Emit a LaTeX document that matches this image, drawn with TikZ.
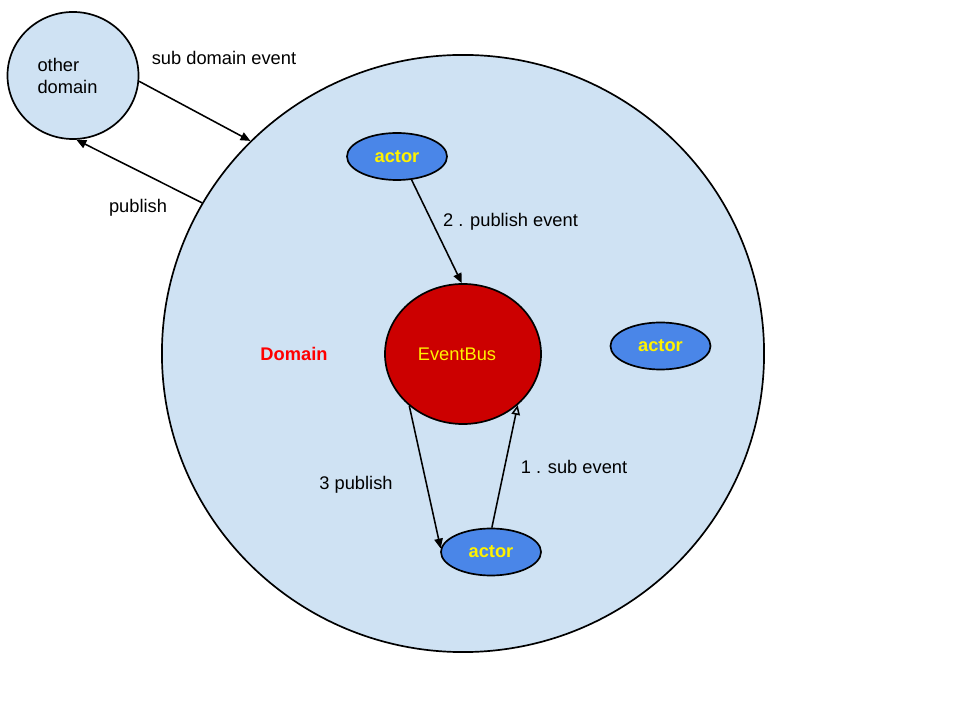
\documentclass[tikz,border=0pt]{standalone}
\usepackage{fontspec}
\setmainfont{Liberation Sans}
\usepackage{tikz}
\usetikzlibrary{arrows.meta,shapes.geometric}

\definecolor{paleblue}{HTML}{CFE2F3}
\definecolor{actorblue}{HTML}{4A86E8}
\definecolor{busred}{HTML}{CC0000}

\begin{document}
\begin{tikzpicture}[
    x=0.025cm, y=-0.025cm,
    every node/.style={font=\fontsize{13}{16}\selectfont},
    blob/.style={draw, ellipse, line width=1.2pt, fill=paleblue, inner sep=0pt},
    actor/.style={draw, ellipse, line width=1.2pt, fill=actorblue, text=yellow,
                  font=\fontsize{13}{16}\selectfont\bfseries,
                  minimum width=2.5cm, minimum height=1.175cm, inner sep=0pt},
    bus/.style={draw, ellipse, line width=1.2pt, fill=busred, text=yellow,
                minimum width=3.9cm, minimum height=3.5cm, inner sep=0pt},
    arr/.style={-{Triangle[length=7pt, width=6pt]}, line width=1.1pt},
    oarr/.style={-{Triangle[open, length=7pt, width=6pt]}, line width=1.1pt},
    lab/.style={inner sep=1pt}]
  \useasboundingbox (0,0) rectangle (960,720);
  % the domain and its neighbour
  \node[blob, minimum width=15.05cm, minimum height=14.925cm] (domain) at (463,353.5) {};
  \node[blob, minimum width=3.275cm, minimum height=3.175cm] (other) at (73,75.5) {};
  \node[lab, align=left] (otherlab) at (67.5,76) {other\\domain};
  \node[text=red, font=\fontsize{13}{16}\selectfont\bfseries] (domainlab) at (294,354) {Domain};
  % inside
  \node[actor] (actortop) at (397,156.5) {actor};
  \node[actor] (actorright) at (660.5,346) {actor};
  \node[actor] (actorbot) at (491,552) {actor};
  \node[bus] (bus) at (463,354) {};
  \node[lab, text=yellow] (buslab) at (457,354) {EventBus};
  % connectors
  \draw[arr] (other.-5) -- (domain.135);
  \draw[arr] (domain.150.8) -- (other.-87);
  \draw[arr] (actortop.-58) -- (bus.91);
  \draw[arr] (bus.-136) -- (actorbot.176);
  \draw[oarr] (actorbot.88) -- (bus.-43);
  % labels
  \node[lab] (l1) at (224,58) {sub domain event};
  \node[lab] (l2) at (138,208) {publish};
  \node[lab] (l3) at (510.5,222) {2 . publish event};
  \node[lab] (l4) at (356,485) {3 publish};
  \node[lab] (l5) at (574,467) {1 . sub event};
\end{tikzpicture}
\end{document}
